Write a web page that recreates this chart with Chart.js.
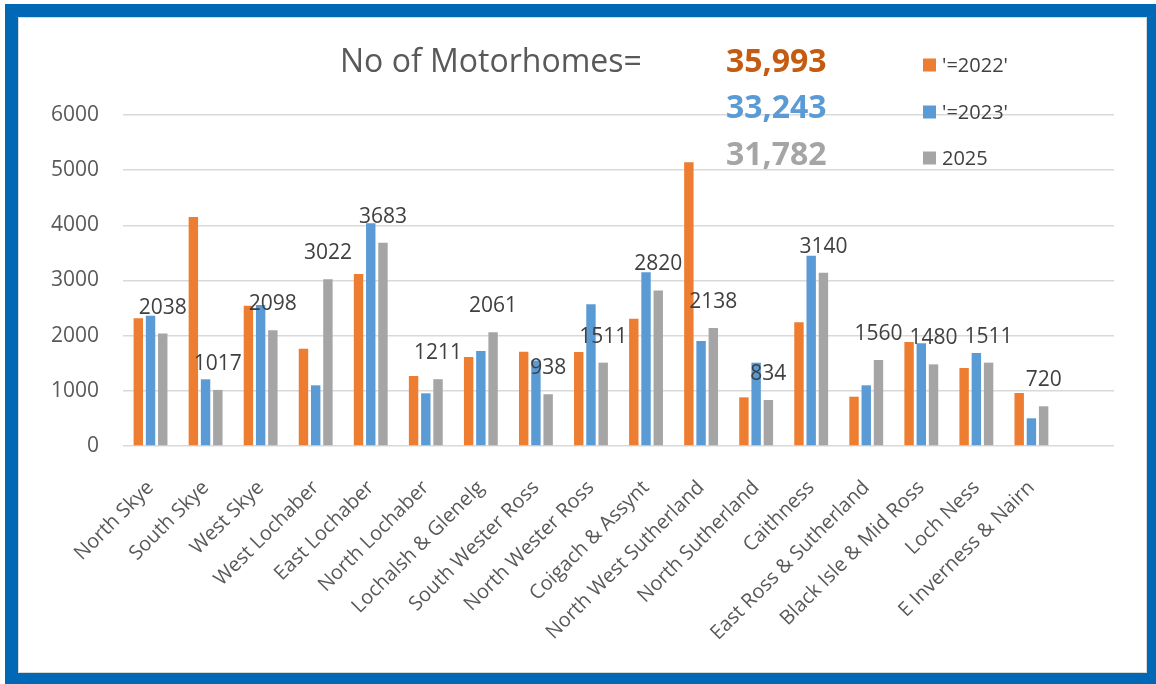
<!DOCTYPE html>
<html>
<head>
<meta charset="utf-8">
<script src="https://cdn.jsdelivr.net/npm/chart.js@4.4.1/dist/chart.umd.min.js"></script>
<style>
  body { margin: 0; background: #fff; }
  #wrap { position: relative; width: 1156px; height: 684px; overflow: hidden; }
  #frame { position: absolute; left: 5px; top: 4px; width: 1129px; height: 656px; border: 13px solid #0068b5; }
  #inner { position: absolute; left: 18px; top: 17px; width: 1127px; height: 654px; border: 1px solid #d9d9d9; }
  canvas { position: absolute; left: 0; top: 0; }
</style>
</head>
<body>
<div id="wrap">
  <div id="frame"></div>
  <div id="inner"></div>
  <canvas id="grafico" width="1156" height="684"></canvas>
</div>
<script>
// areas (last one is the empty slot Excel leaves at the right)
const zonas = ['North Skye', 'South Skye', 'West Skye', 'West Lochaber', 'East Lochaber',
  'North Lochaber', 'Lochalsh & Glenelg', 'South Wester Ross', 'North Wester Ross',
  'Coigach & Assynt', 'North West Sutherland', 'North Sutherland', 'Caithness',
  'East Ross & Sutherland', 'Black Isle & Mid Ross', 'Loch Ness', 'E Inverness & Nairn', ''];

const series = ["'=2022'", "'=2023'", '2025'];
const valores2022 = [2315, 4150, 2543, 1764, 3118, 1269, 1613, 1710, 1704, 2308, 5142, 882, 2242, 894, 1885, 1414, 961, null];
const valores2023 = [2362, 1209, 2556, 1100, 4036, 955, 1722, 1550, 2568, 3148, 1903, 1510, 3450, 1100, 1861, 1686, 502, null];
const valores2025 = [2038, 1017, 2098, 3022, 3683, 1211, 2061, 938, 1511, 2820, 2138, 834, 3140, 1560, 1480, 1511, 720, null];
const totales = ['35,993', '33,243', '31,782'];
const yTicks = [0, 1000, 2000, 3000, 4000, 5000, 6000];

const colores = ['#ed7d31', '#5b9bd5', '#a5a5a5'];
const coloresTotal = ['#c55a11', '#5b9bd5', '#a5a5a5'];
const fuente = '"Open Sans", "DejaVu Sans", sans-serif';

// etiquetas de valor solo sobre la serie 2025
const etiquetas = {
  id: 'etiquetas',
  afterDatasetsDraw(chart) {
    const ctx = chart.ctx;
    const meta = chart.getDatasetMeta(2);
    ctx.save();
    ctx.font = '21px ' + fuente;
    ctx.fillStyle = '#404040';
    ctx.textAlign = 'center';
    ctx.textBaseline = 'middle';
    meta.data.forEach((bar, i) => {
      const v = chart.data.datasets[2].data[i];
      if (v == null) return;
      ctx.fillText(String(v), bar.x, bar.y - 26);
    });
    ctx.restore();
  }
};

// titulo, totales y leyenda
const cabecera = {
  id: 'cabecera',
  afterDraw(chart) {
    const ctx = chart.ctx;
    ctx.save();
    ctx.textBaseline = 'alphabetic';
    ctx.textAlign = 'left';
    ctx.font = '32px ' + fuente;
    ctx.fillStyle = '#595959';
    ctx.fillText('No of Motorhomes=', 340, 72);

    const filas = [72, 118, 165];
    ctx.font = 'bold 32px ' + fuente;
    totales.forEach((t, i) => {
      ctx.fillStyle = coloresTotal[i];
      ctx.fillText(t, 726, filas[i]);
    });

    const centros = [65, 112, 158];
    chart.data.datasets.forEach((ds, i) => {
      ctx.fillStyle = ds.backgroundColor;
      ctx.fillRect(923, centros[i] - 6.5, 13, 13);
      ctx.fillStyle = '#404040';
      ctx.font = '20px ' + fuente;
      ctx.textBaseline = 'middle';
      ctx.fillText(ds.label, 942, centros[i] + 1);
    });
    ctx.restore();
  }
};

new Chart(document.getElementById('grafico'), {
  type: 'bar',
  data: {
    labels: zonas,
    datasets: [
      { label: series[0], data: valores2022, backgroundColor: colores[0] },
      { label: series[1], data: valores2023, backgroundColor: colores[1] },
      { label: series[2], data: valores2025, backgroundColor: colores[2] }
    ]
  },
  options: {
    responsive: false,
    animation: false,
    layout: { padding: { top: 115, right: 42, left: 0, bottom: 0 } },
    datasets: { bar: { categoryPercentage: 0.666, barPercentage: 0.77 } },
    plugins: { legend: { display: false }, tooltip: { enabled: false } },
    scales: {
      x: {
        grid: { display: false },
        border: { display: false },
        ticks: {
          autoSkip: false, minRotation: 45, maxRotation: 45, padding: 22,
          color: '#595959', font: { family: fuente, size: 20 }
        },
        afterFit(s) { s.height = 238; }
      },
      y: {
        min: 0, max: 6000,
        afterBuildTicks(s) { s.ticks = yTicks.map(v => ({ value: v })); },
        grid: { color: '#d9d9d9', lineWidth: 1.5, drawTicks: false },
        border: { display: false },
        ticks: {
          padding: 24, color: '#595959', font: { family: fuente, size: 21 },
          callback: v => String(v)
        },
        afterFit(s) { s.width = 123; }
      }
    }
  },
  plugins: [etiquetas, cabecera]
});
</script>
</body>
</html>
